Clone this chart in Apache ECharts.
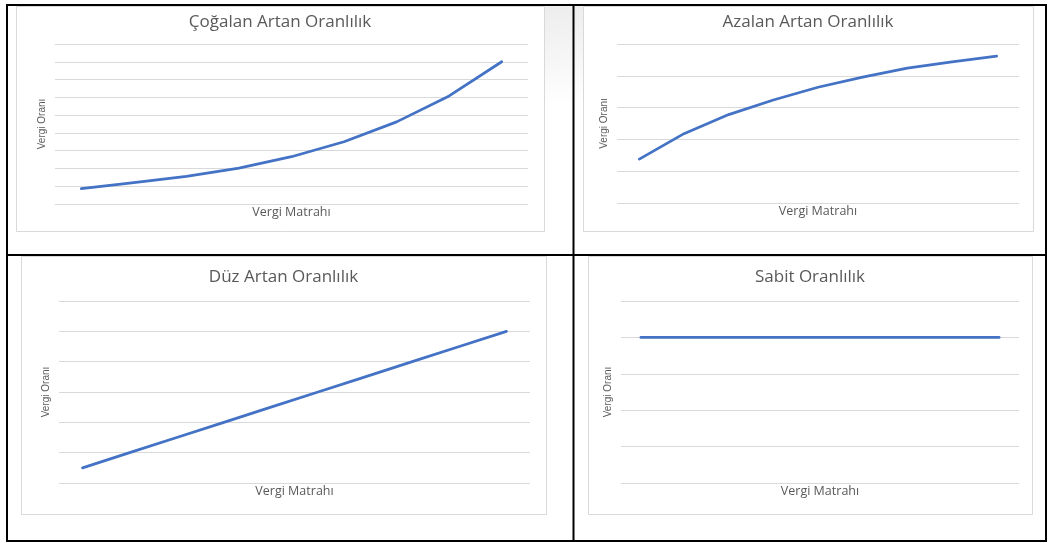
<!DOCTYPE html>
<html>
<head>
<meta charset="utf-8">
<script src="https://cdn.jsdelivr.net/npm/echarts@6/dist/echarts.min.js"></script>
<style>
  html, body { margin: 0; padding: 0; background: #ffffff; }
  #chart { width: 1051px; height: 543px; }
</style>
</head>
<body>
<div id="chart"></div>
<script>
// Tax base steps (x categories, not labelled on the axes)
const matrahSteps9 = ['1', '2', '3', '4', '5', '6', '7', '8', '9'];
const matrahSteps10 = ['1', '2', '3', '4', '5', '6', '7', '8', '9', '10'];

// Tax rates for each progression type
const cogalanValues = [4.3, 6.0, 7.8, 10.1, 13.3, 17.5, 23.1, 30.4, 40.0];
const azalanValues = [6.9, 10.9, 13.9, 16.2, 18.2, 19.8, 21.2, 22.2, 23.1];
const duzValues = [2.5, 5.0, 7.5, 10.0, 12.5, 15.0, 17.5, 20.0, 22.5, 25.0];
const sabitValues = [20, 20, 20, 20, 20, 20, 20, 20, 20, 20];

// Titles and axis names
const panelTitles = ['Çoğalan Artan Oranlılık', 'Azalan Artan Oranlılık', 'Düz Artan Oranlılık', 'Sabit Oranlılık'];
const xAxisName = 'Vergi Matrahı';
const yAxisName = 'Vergi Oranı';
const yMax = [45, 25, 30, 25];

const TEXT = '#595959';
const GRIDLINE = '#d9d9d9';
const LINE = '#4472C4';

// Panel geometry: chart frame and plot area
const panels = [
  { frame: [16, 6, 528, 225], grid: { left: 55, top: 44, width: 473, height: 160 }, titleY: 22, cats: matrahSteps9, data: cogalanValues },
  { frame: [583, 6, 450, 225], grid: { left: 617, top: 44, width: 402, height: 159 }, titleY: 22, cats: matrahSteps9, data: azalanValues },
  { frame: [21, 256, 525, 258], grid: { left: 59, top: 301, width: 471, height: 182 }, titleY: 277, cats: matrahSteps10, data: duzValues },
  { frame: [588, 256, 444, 258], grid: { left: 621, top: 301, width: 398, height: 182 }, titleY: 277, cats: matrahSteps10, data: sabitValues }
];

const graphics = [];

// faint shading between the two upper charts
graphics.push({
  type: 'rect', z: -20, silent: true,
  shape: { x: 545, y: 6, width: 38, height: 100 },
  style: {
    fill: new echarts.graphic.LinearGradient(0, 0, 0.3, 1, [
      { offset: 0, color: '#ededed' },
      { offset: 0.55, color: '#f6f6f6' },
      { offset: 1, color: '#ffffff' }
    ])
  }
});

panels.forEach((p, i) => {
  const [fx, fy, fw, fh] = p.frame;
  graphics.push({
    type: 'rect', z: -10, silent: true,
    shape: { x: fx + 0.5, y: fy + 0.5, width: fw, height: fh },
    style: { fill: '#ffffff', stroke: GRIDLINE, lineWidth: 1 }
  });
  graphics.push({
    type: 'text', z: 10, silent: true,
    x: fx + fw / 2, y: p.titleY,
    style: {
      text: panelTitles[i], fill: TEXT,
      font: '17px "Open Sans"', align: 'center', verticalAlign: 'middle'
    }
  });
});

// table rules
const rules = [
  [6, 5, 1047, 5],
  [6, 541, 1047, 541],
  [7, 4, 7, 542],
  [573.5, 4, 573.5, 542],
  [1046, 4, 1046, 542],
  [6, 255, 1047, 255]
];
rules.forEach(r => {
  graphics.push({
    type: 'line', z: 100, silent: true,
    shape: { x1: r[0], y1: r[1], x2: r[2], y2: r[3] },
    style: { stroke: '#000000', lineWidth: 2 }
  });
});

const option = {
  backgroundColor: '#ffffff',
  animation: false,
  graphic: graphics,
  grid: panels.map(p => Object.assign({ containLabel: false }, p.grid)),
  xAxis: panels.map((p, i) => ({
    type: 'category', gridIndex: i, data: p.cats, boundaryGap: true,
    name: xAxisName, nameLocation: 'middle', nameGap: 2,
    nameTextStyle: { color: TEXT, fontFamily: 'Open Sans', fontSize: 12.5 },
    axisLine: { show: false }, axisTick: { show: false }, axisLabel: { show: false },
    splitLine: { show: false }
  })),
  yAxis: panels.map((p, i) => ({
    type: 'value', gridIndex: i, min: 0, max: yMax[i], interval: 5,
    name: yAxisName, nameLocation: 'middle', nameGap: 8,
    nameTextStyle: { color: TEXT, fontFamily: 'Liberation Sans', fontSize: 10 },
    axisLine: { show: false }, axisTick: { show: false }, axisLabel: { show: false },
    splitLine: { show: true, lineStyle: { color: GRIDLINE, width: 1 } }
  })),
  series: panels.map((p, i) => ({
    type: 'line', xAxisIndex: i, yAxisIndex: i, data: p.data,
    showSymbol: false, smooth: false,
    lineStyle: { color: LINE, width: 2.75, cap: 'round', join: 'round' }
  }))
};

const chart = echarts.init(document.getElementById('chart'), null, { renderer: 'canvas' });
chart.setOption(option);
</script>
</body>
</html>
